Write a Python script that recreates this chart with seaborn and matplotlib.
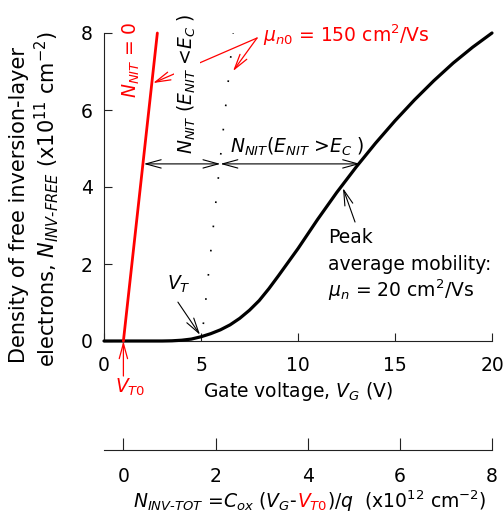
import matplotlib
matplotlib.use("Agg")
import numpy as np
import pandas as pd
import matplotlib.pyplot as plt
import seaborn as sns

# ---------------- data ----------------
gate_v = [0, 1, 2, 3, 3.5, 4, 4.5, 5, 5.5, 6, 6.5, 7, 7.5, 8, 8.5, 9, 9.5,
          10, 11, 12, 13, 14, 15, 16, 17, 18, 19, 20]
n_free = [0, 0, 0, 0, 0.005, 0.02, 0.05, 0.11, 0.19, 0.29, 0.42, 0.59, 0.80,
          1.05, 1.36, 1.7, 2.05, 2.4, 3.15, 3.86, 4.52, 5.14, 5.72, 6.26,
          6.76, 7.22, 7.63, 8.0]
red_v = [1.0, 2.75]          # N_NIT = 0 line
red_n = [0.0, 8.0]
dot_v = [5.12, 6.66]         # N_NIT(E_NIT<E_C) dotted line
dot_n = [0.44, 8.0]
x_ticks = [0, 5, 10, 15, 20]
y_ticks = [0, 2, 4, 6, 8]
tot_ticks = [0, 2, 4, 6, 8]
VT0 = 1.0
COX_Q = 8.0 / 19.0           # x10^12 cm^-2 per volt

# ---------------- style ----------------
sns.set_theme(style="ticks")
plt.rcParams["font.family"] = ["DejaVu Sans"]
plt.rcParams["mathtext.fontset"] = "dejavusans"
plt.rcParams["text.color"] = "black"
FS = 13.5
RED = "#ff0000"
SPINE = "#222222"

W, H = 504, 518
fig = plt.figure(figsize=(W / 100, H / 100), dpi=100)
L, R, T, B = 104, 492, 33, 341
ax = fig.add_axes([L / W, 1 - B / H, (R - L) / W, (B - T) / H])

df = pd.DataFrame({"V": gate_v, "N": n_free})
sns.lineplot(data=df, x="V", y="N", ax=ax, color="black", lw=2.3,
             clip_on=False, zorder=5)
sns.lineplot(x=red_v, y=red_n, ax=ax, color=RED, lw=2.0, clip_on=False, zorder=5)
sns.lineplot(x=dot_v, y=dot_n, ax=ax, color="black", lw=1.2, zorder=4)
ax.lines[-1].set_linestyle((0, (1, 13.6)))

ax.set_xlim(0, 20)
ax.set_ylim(0, 8)
ax.set_xticks(x_ticks)
ax.set_yticks(y_ticks)
ax.set_xlabel("")
ax.set_ylabel("")
for s in ["top", "right"]:
    ax.spines[s].set_visible(False)
for s in ["left", "bottom"]:
    ax.spines[s].set_color(SPINE)
    ax.spines[s].set_linewidth(0.8)
ax.tick_params(axis="both", direction="in", length=6, width=0.8,
               color=SPINE, labelsize=FS, labelcolor="black")
ax.tick_params(axis="x", pad=11)
ax.tick_params(axis="y", pad=8)


def arrow(xy, xytext, color="black", style="->", lw=0.8):
    ax.annotate("", xy=xy, xytext=xytext,
                arrowprops=dict(arrowstyle=f"{style},head_length=1.1,head_width=0.3",
                                color=color, lw=lw, shrinkA=0, shrinkB=0,
                                mutation_scale=10),
                annotation_clip=False, zorder=6)


# ---- in-plot annotations ----
ax.text(8.2, 7.77, r"$\mu_{n0}$ = 150 cm$^2$/Vs", color=RED, fontsize=FS,
        ha="left", va="baseline")
arrow((2.53, 6.70), (7.89, 7.87), color=RED, lw=0.9)
arrow((6.65, 7.01), (7.89, 7.87), color=RED, lw=0.9)

ax.text(1.70, 7.3, r"$N_{NIT}$ = 0", color=RED, fontsize=FS, rotation=90,
        rotation_mode="anchor", ha="center", va="baseline", zorder=7)
ax.text(4.59, 6.69, r"$N_{NIT}$ ($E_{NIT}$ <$E_C$ )", color="black",
        fontsize=FS, rotation=90, rotation_mode="anchor", ha="center",
        va="baseline", zorder=7,
        bbox=dict(facecolor="white", edgecolor="none", pad=1.5))
ax.text(6.49, 4.88, r"$N_{NIT}$($E_{NIT}$ >$E_C$ )", color="black",
        fontsize=FS, ha="left", va="baseline", zorder=7)
arrow((2.05, 4.6), (6.0, 4.6), style="<->")
arrow((6.0, 4.6), (13.2, 4.6), style="<->")

ax.text(3.25, 1.33, r"$V_T$", fontsize=FS, ha="left", va="baseline")
arrow((4.95, 0.16), (3.81, 1.01))

ax.text(11.55, 2.55, "Peak", fontsize=FS, ha="left", va="baseline")
ax.text(11.55, 1.84, "average mobility:", fontsize=FS, ha="left", va="baseline")
ax.text(11.55, 1.14, r"$\mu_n$ = 20 cm$^2$/Vs", fontsize=FS, ha="left",
        va="baseline")
arrow((12.32, 3.97), (12.94, 3.09))

ax.text(0.57, -1.35, r"$V_{T0}$", color=RED, fontsize=FS, ha="left",
        va="baseline", clip_on=False)
arrow((1.0, 0.0), (1.0, -0.91), color=RED, lw=0.9)

fig.text(298 / W, 1 - 397 / H, r"Gate voltage, $V_G$ (V)", fontsize=FS,
         ha="center", va="baseline")

YL = 15
fig.text(25 / W, 1 - 205 / H, "Density of free inversion-layer", fontsize=YL,
         rotation=90, rotation_mode="anchor", ha="center", va="baseline")
fig.text(55 / W, 1 - 199 / H,
         r"electrons, $N_{INV\text{-}FREE}$ (x10$^{11}$ cm$^{-2}$)",
         fontsize=YL, rotation=90, rotation_mode="anchor", ha="center",
         va="baseline")

# ---------------- secondary (total) axis ----------------
SY = 450
ax2 = fig.add_axes([L / W, 1 - SY / H, (R - L) / W, 0.0001])
ax2.set_xlim((0 - VT0) * COX_Q, (20 - VT0) * COX_Q)
ax2.set_xticks(tot_ticks)
ax2.set_yticks([])
ax2.patch.set_alpha(0)
for s in ["top", "right", "left"]:
    ax2.spines[s].set_visible(False)
ax2.spines["bottom"].set_color(SPINE)
ax2.spines["bottom"].set_linewidth(0.8)
ax2.tick_params(axis="x", direction="in", length=9, width=0.8, color=SPINE,
                labelsize=FS, labelcolor="black", pad=12)

fig.canvas.draw()
rend = fig.canvas.get_renderer()
base_y = 1 - 508 / H
t1 = fig.text(133 / W, base_y, r"$N_{INV\text{-}TOT}$ =$C_{ox}$ ($V_G$-",
              fontsize=FS, ha="left", va="baseline")
bb = t1.get_window_extent(rend)
t2 = fig.text(bb.x1 / W, base_y, r"$V_{T0}$", color=RED, fontsize=FS,
              ha="left", va="baseline")
bb = t2.get_window_extent(rend)
t3 = fig.text(bb.x1 / W, base_y, r")/$q$  (x10$^{12}$ cm$^{-2}$)",
              fontsize=FS, ha="left", va="baseline")

fig.savefig("out.png", dpi=100)
